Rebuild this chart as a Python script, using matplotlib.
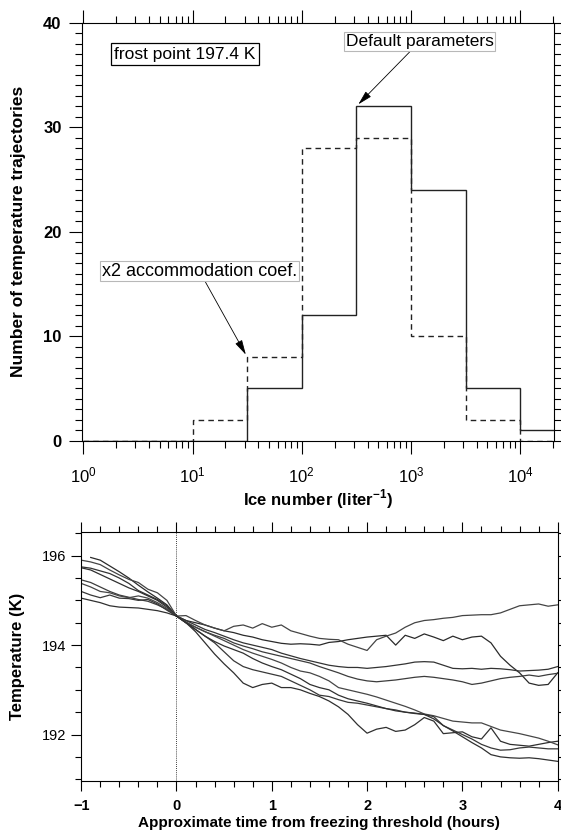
import numpy as np
import matplotlib
matplotlib.use("Agg")
import matplotlib.pyplot as plt
from matplotlib.ticker import MultipleLocator, LogLocator, NullFormatter

plt.rcParams['font.family'] = ['Liberation Sans', 'DejaVu Sans']
plt.rcParams['mathtext.fontset'] = 'custom'
plt.rcParams['mathtext.rm'] = 'Liberation Sans'
plt.rcParams['mathtext.bf'] = 'Liberation Sans:bold'

# histogram of ice number, bins in half decades
log_edges = [0.0, 0.5, 1.0, 1.5, 2.0, 2.5, 3.0, 3.5, 4.0, 4.5]
default_counts = [0, 0, 0, 5, 12, 32, 24, 5, 1]
x2_counts = [0, 0, 2, 8, 28, 29, 10, 2, 0]

# temperature trajectories (K), sampled every 0.1 h
hours = [-1.0, -0.9, -0.8, -0.7, -0.6, -0.5, -0.4, -0.3, -0.2, -0.1, 0.0,
         0.1, 0.2, 0.3, 0.4, 0.5, 0.6, 0.7, 0.8, 0.9, 1.0,
         1.1, 1.2, 1.3, 1.4, 1.5, 1.6, 1.7, 1.8, 1.9, 2.0,
         2.1, 2.2, 2.3, 2.4, 2.5, 2.6, 2.7, 2.8, 2.9, 3.0,
         3.1, 3.2, 3.3, 3.4, 3.5, 3.6, 3.7, 3.8, 3.9, 4.0]

traj1 = [np.nan, 195.96, 195.9, 195.77, 195.64, 195.5, 195.34, 195.19, 195.05, 194.9, 194.65,
         194.55, 194.5, 194.45, 194.38, 194.32, 194.28, 194.22, 194.18, 194.12, 194.08,
         194.04, 194.02, 194.03, 194.02, 194.0, 194.06, 194.08, 194.12, 194.15, 194.18,
         194.2, 194.22, 194.0, 194.22, 194.15, 194.25, 194.18, 194.1, 194.2, 194.12,
         194.18, 194.2, 194.05, 193.75, 193.55, 193.38, 193.15, 193.1, 193.12, 193.38]
traj2 = [195.9, 195.86, 195.8, 195.68, 195.57, 195.47, 195.4, 195.25, 195.17, 195.0, 194.65,
         194.66, 194.55, 194.45, 194.38, 194.32, 194.42, 194.45, 194.38, 194.48, 194.4,
         194.45, 194.32, 194.26, 194.2, 194.15, 194.13, 194.12, 194.02, 193.95, 193.88,
         194.12, 194.2, 194.27, 194.4, 194.5, 194.55, 194.57, 194.6, 194.62, 194.66,
         194.67, 194.68, 194.68, 194.72, 194.8, 194.88, 194.9, 194.92, 194.87, 194.9]
traj3 = [195.75, 195.72, 195.66, 195.6, 195.5, 195.38, 195.22, 195.12, 195.02, 194.88, 194.65,
         194.55, 194.45, 194.35, 194.28, 194.2, 194.12, 194.05, 194.0, 193.95, 193.9,
         193.82, 193.76, 193.7, 193.65, 193.6, 193.55, 193.52, 193.5, 193.5, 193.48,
         193.5, 193.52, 193.55, 193.58, 193.62, 193.63, 193.62, 193.55, 193.48, 193.47,
         193.48, 193.46, 193.48, 193.47, 193.45, 193.42, 193.43, 193.44, 193.46, 193.52]
traj4 = [195.46, 195.4, 195.3, 195.2, 195.12, 195.07, 195.02, 194.98, 194.9, 194.8, 194.65,
         194.5, 194.4, 194.3, 194.22, 194.15, 194.05, 193.98, 193.92, 193.85, 193.8,
         193.75, 193.7, 193.65, 193.6, 193.52, 193.45, 193.38, 193.3, 193.24, 193.2,
         193.18, 193.2, 193.22, 193.25, 193.28, 193.3, 193.28, 193.25, 193.22, 193.18,
         193.12, 193.15, 193.2, 193.25, 193.28, 193.3, 193.33, 193.3, 193.34, 193.37]
traj5 = [195.73, 195.68, 195.58, 195.48, 195.38, 195.28, 195.2, 195.1, 195.0, 194.85, 194.65,
         194.5, 194.3, 194.05, 193.8, 193.58, 193.38, 193.15, 193.05, 193.12, 193.15,
         193.05, 193.05, 193.0, 192.92, 192.85, 192.75, 192.62, 192.45, 192.22, 192.03,
         192.12, 192.16, 192.07, 192.1, 192.22, 192.38, 192.3, 192.02, 192.04, 192.06,
         191.95, 191.9, 192.15, 191.85, 191.78, 191.76, 191.74, 191.78, 191.82, 191.85]
traj6 = [195.38, 195.3, 195.2, 195.17, 195.1, 195.06, 195.1, 195.05, 194.95, 194.82, 194.65,
         194.52, 194.4, 194.3, 194.2, 194.1, 194.0, 193.9, 193.82, 193.75, 193.68,
         193.6, 193.5, 193.42, 193.38, 193.3, 193.2, 193.05, 193.0, 192.95, 192.9,
         192.84, 192.77, 192.7, 192.63, 192.55, 192.46, 192.42, 192.36, 192.3, 192.28,
         192.26, 192.26, 192.18, 192.1, 192.06, 192.02, 191.97, 191.92, 191.85, 191.77]
traj7 = [195.2, 195.12, 195.06, 195.12, 195.05, 195.04, 195.0, 195.02, 194.92, 194.78, 194.65,
         194.5, 194.35, 194.2, 194.05, 193.85, 193.65, 193.52, 193.45, 193.4, 193.35,
         193.3, 193.2, 193.1, 193.0, 192.88, 192.85, 192.78, 192.72, 192.7, 192.66,
         192.62, 192.58, 192.55, 192.5, 192.48, 192.45, 192.4, 192.2, 192.1, 192.0,
         191.9, 191.78, 191.7, 191.65, 191.66, 191.7, 191.72, 191.7, 191.68, 191.68]
traj8 = [195.05, 195.0, 194.95, 194.88, 194.85, 194.84, 194.83, 194.8, 194.77, 194.72, 194.65,
         194.5, 194.35, 194.2, 194.08, 193.98, 193.9, 193.82, 193.7, 193.6, 193.52,
         193.45, 193.35, 193.25, 193.12, 193.05, 193.0, 192.88, 192.8, 192.75, 192.7,
         192.64, 192.58, 192.53, 192.5, 192.47, 192.45, 192.35, 192.2, 192.08, 191.95,
         191.82, 191.7, 191.55, 191.5, 191.48, 191.47, 191.48, 191.46, 191.43, 191.4]
trajectories = [traj1, traj2, traj3, traj4, traj5, traj6, traj7, traj8]

fig = plt.figure(figsize=(5.61, 8.35), dpi=100)

# ---- top panel: histogram ----
ax1 = fig.add_axes([0.1456, 0.4722, 0.8428, 0.5006])
edges = [10 ** e for e in log_edges]
ax1.stairs(default_counts, edges, baseline=None, color='#222222', lw=1.0)
ax1.stairs(x2_counts, edges, baseline=None, color='#222222', lw=1.0, ls=(0, (4, 3)))
ax1.set_xscale('log')
ax1.set_xlim(0.965, 20600)
ax1.set_ylim(0, 40)
ax1.xaxis.set_major_locator(LogLocator(base=10, numticks=10))
ax1.xaxis.set_minor_locator(LogLocator(base=10, subs=np.arange(2, 10), numticks=20))
ax1.xaxis.set_minor_formatter(NullFormatter())
ax1.yaxis.set_major_locator(MultipleLocator(10))
ax1.yaxis.set_minor_locator(MultipleLocator(1))
ax1.tick_params(which='both', direction='out', top=True, right=True, width=0.8)
ax1.tick_params(which='major', length=9.5, labelsize=12)
ax1.tick_params(which='minor', length=5)
ax1.tick_params(axis='x', which='major', pad=8)
ax1.tick_params(axis='y', which='major', pad=5)
for lab in ax1.get_yticklabels():
    lab.set_fontweight('bold')
ax1.set_xlabel(r'Ice number (liter$^{\mathbf{-1}}$)', fontsize=12, fontweight='bold', labelpad=2)
ax1.set_ylabel('Number of temperature trajectories', fontsize=12.5, fontweight='bold')
ax1.yaxis.set_label_coords(-0.118, 0.5)

ax1.text(0.2186, 0.925, 'frost point 197.4 K', transform=ax1.transAxes,
         ha='center', va='center', fontsize=12.5,
         bbox=dict(boxstyle='square,pad=0.2', fc='white', ec='black', lw=0.9))
ax1.annotate('Default parameters', xy=(edges[5], default_counts[5]),
             xytext=(0.7148, 0.9545), textcoords='axes fraction',
             ha='center', va='center', fontsize=12.5,
             bbox=dict(boxstyle='square,pad=0.1', fc='white', ec='#b8b8b8', lw=0.8),
             arrowprops=dict(arrowstyle='-|>,head_length=0.7,head_width=0.18',
                             color='black', lw=0.6, shrinkA=0, shrinkB=2))
ax1.annotate('x2 accommodation coef.', xy=(edges[3], x2_counts[3]),
             xytext=(0.2488, 0.406), textcoords='axes fraction',
             ha='center', va='center', fontsize=13,
             bbox=dict(boxstyle='square,pad=0.1', fc='white', ec='#b8b8b8', lw=0.8),
             arrowprops=dict(arrowstyle='-|>,head_length=0.7,head_width=0.18',
                             color='black', lw=0.6, shrinkA=0, shrinkB=2))

# ---- bottom panel: trajectories ----
ax2 = fig.add_axes([0.1447, 0.0641, 0.8494, 0.2988])
shades = ['#2a2a2a', '#444444', '#333333', '#3c3c3c', '#2f2f2f', '#464646', '#383838', '#303030']
for traj, c in zip(trajectories, shades):
    ax2.plot(hours, traj, color=c, lw=0.9)
ax2.axvline(0, color='black', lw=0.6, ls=(0, (1, 1.5)))
ax2.set_xlim(-1, 4)
ax2.set_ylim(190.95, 196.53)
ax2.xaxis.set_major_locator(MultipleLocator(1))
ax2.xaxis.set_minor_locator(MultipleLocator(0.2))
ax2.yaxis.set_major_locator(MultipleLocator(2))
ax2.yaxis.set_minor_locator(MultipleLocator(0.5))
ax2.tick_params(which='both', direction='out', top=True, right=True, width=0.8)
ax2.tick_params(which='major', length=7.5, labelsize=10.5)
ax2.tick_params(which='minor', length=4)
ax2.tick_params(axis='x', which='major', pad=5)
for lab in ax2.get_xticklabels():
    lab.set_fontweight('bold')
ax2.set_xlabel('Approximate time from freezing threshold (hours)', fontsize=11,
               fontweight='bold', labelpad=2)
ax2.set_ylabel('Temperature (K)', fontsize=12, fontweight='bold')
ax2.yaxis.set_label_coords(-0.118, 0.5)

for ax in (ax1, ax2):
    for sp in ax.spines.values():
        sp.set_linewidth(0.8)

fig.savefig('out.png', dpi=100)
